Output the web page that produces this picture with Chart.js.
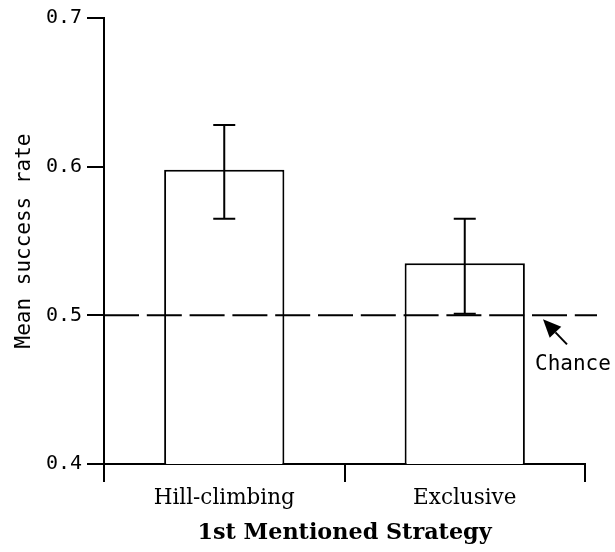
<!DOCTYPE html>
<html><head><meta charset="utf-8">
<style>html,body{margin:0;padding:0;background:#fff;}#wrap{width:615px;height:552px;}</style>
<script src="https://cdn.jsdelivr.net/npm/chart.js@4.4.0/dist/chart.umd.min.js"></script>
</head><body><div id="wrap"><canvas id="c" width="615" height="552"></canvas></div>
<script>
const categories = ['Hill-climbing', 'Exclusive'];
const meanValues = [0.598, 0.535];
const errorLow = [0.565, 0.501];
const errorHigh = [0.628, 0.565];
const yTicks = [0.4, 0.5, 0.6, 0.7];
const chanceLevel = 0.5;
const chanceLabel = 'Chance';

const overlay = {
  id: 'overlay',
  afterDatasetsDraw(chart) {
    const ctx = chart.ctx;
    const ys = chart.scales.y;
    const area = chart.chartArea;
    const meta = chart.getDatasetMeta(0);
    ctx.save();
    ctx.strokeStyle = '#000';
    ctx.fillStyle = '#000';
    ctx.lineWidth = 2;
    // error bars
    meta.data.forEach((bar, i) => {
      const yh = ys.getPixelForValue(errorHigh[i]);
      const yl = ys.getPixelForValue(errorLow[i]);
      const cap = 11;
      ctx.beginPath();
      ctx.moveTo(bar.x, yh); ctx.lineTo(bar.x, yl);
      ctx.moveTo(bar.x - cap, yh); ctx.lineTo(bar.x + cap, yh);
      ctx.moveTo(bar.x - cap, yl); ctx.lineTo(bar.x + cap, yl);
      ctx.stroke();
    });
    // chance line
    const yc = ys.getPixelForValue(chanceLevel);
    ctx.setLineDash([35, 7.8]);
    ctx.beginPath();
    ctx.moveTo(area.left, yc);
    ctx.lineTo(area.right + 12, yc);
    ctx.stroke();
    ctx.setLineDash([]);
    // arrow
    const tipX = area.right - 42, tipY = yc + 4;
    const tailX = area.right - 18, tailY = yc + 29;
    const dx = tipX - tailX, dy = tipY - tailY;
    const len = Math.hypot(dx, dy);
    const ux = dx / len, uy = dy / len;
    const hl = 18, hw = 8;
    const bx = tipX - ux * hl, by = tipY - uy * hl;
    ctx.beginPath();
    ctx.moveTo(bx, by); ctx.lineTo(tailX, tailY);
    ctx.stroke();
    ctx.beginPath();
    ctx.moveTo(tipX, tipY);
    ctx.lineTo(bx - uy * hw, by + ux * hw);
    ctx.lineTo(bx + uy * hw, by - ux * hw);
    ctx.closePath();
    ctx.fill();
    // label
    ctx.font = '21px "DejaVu Sans Mono"';
    ctx.textAlign = 'left';
    ctx.textBaseline = 'middle';
    ctx.fillText(chanceLabel, area.right - 50, yc + 49);
    ctx.restore();
  }
};

new Chart(document.getElementById('c'), {
  type: 'bar',
  data: {
    labels: categories,
    datasets: [{
      data: meanValues,
      backgroundColor: '#fff',
      borderColor: '#000',
      borderWidth: 2,
      barPercentage: 0.5,
      categoryPercentage: 1.0
    }]
  },
  options: {
    responsive: false,
    animation: false,
    events: [],
    layout: { padding: { top: 18, right: 30, left: 0, bottom: 0 } },
    plugins: { legend: { display: false }, tooltip: { enabled: false } },
    scales: {
      x: {
        offset: true,
        grid: { offset: true, drawOnChartArea: false, tickLength: 18, color: '#000', lineWidth: 2 },
        border: { color: '#000', width: 2 },
        ticks: { color: '#000', font: { family: 'DejaVu Serif', size: 21.5 }, padding: 4, maxRotation: 0 },
        title: { display: true, text: '1st Mentioned Strategy', color: '#000',
                 font: { family: 'DejaVu Serif', size: 22.3, weight: 'bold' }, padding: { top: 0, bottom: 5 } },
        afterFit(s) { s.height = 88; }
      },
      y: {
        min: 0.4, max: 0.7,
        afterBuildTicks(s) { s.ticks = yTicks.map(v => ({ value: v })); },
        grid: { drawOnChartArea: false, tickLength: 17, color: '#000', lineWidth: 2 },
        border: { color: '#000', width: 2 },
        ticks: { color: '#000', font: { family: 'DejaVu Sans Mono', size: 20 }, padding: 5,
                 callback: v => Number(v).toFixed(1) },
        title: { display: true, text: 'Mean success rate', color: '#000',
                 font: { family: 'DejaVu Sans Mono', size: 21 }, padding: { top: 12, bottom: 0 } },
        afterFit(s) { s.width = 104; }
      }
    }
  },
  plugins: [overlay]
});
</script></body></html>
